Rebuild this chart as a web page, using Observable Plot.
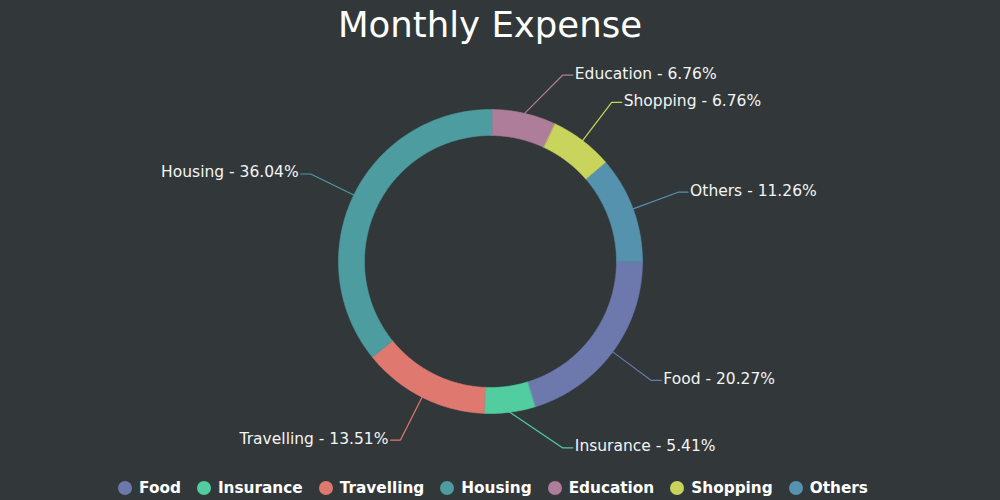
<!DOCTYPE html>
<html>
<head>
<meta charset="utf-8">
<script src="https://cdn.jsdelivr.net/npm/d3@7"></script>
<script src="https://cdn.jsdelivr.net/npm/@observablehq/plot@0.6"></script>
<style>
  html, body { margin: 0; padding: 0; background: #32373A; }
  #wrap { width: 1000px; height: 500px; overflow: hidden; font-family: "DejaVu Sans", sans-serif; color: #fff; }
  #title { height: 50px; line-height: 50px; text-align: center; font-size: 35.5px; color: #fff; padding-right: 20px; }
  #legend { height: 30px; box-sizing: border-box; padding-top: 6px; padding-right: 14px; display: flex; justify-content: center; align-items: center; gap: 16px; font-size: 15.3px; font-weight: bold; color: #fff; }
  .item { display: flex; align-items: center; gap: 7px; }
  .dot { width: 14px; height: 14px; border-radius: 50%; display: inline-block; }
  svg { display: block; }
</style>
</head>
<body>
<div id="wrap">
  <div id="title">Monthly Expense</div>
  <div id="chart"></div>
  <div id="legend"></div>
</div>
<script>
const categories = ["Food", "Insurance", "Travelling", "Housing", "Education", "Shopping", "Others"];
const values = [45, 12, 30, 80, 15, 15, 25];
const colors = ["#6D78AD", "#51CDA0", "#DF7970", "#4C9CA0", "#AE7D99", "#C9D45C", "#5592AD"];

const W = 1000, H = 420;
const R = 152, r = 126, RL = 200, minD = 21.2 * Math.PI / 180;
const total = d3.sum(values);

let cum = 0;
const slices = categories.map((c, i) => {
  const a0 = cum / total * 2 * Math.PI;
  cum += values[i];
  const a1 = cum / total * 2 * Math.PI;
  return { c, a0, a1, mid: (a0 + a1) / 2, pct: (values[i] / total * 100).toFixed(2) };
});

// ring polygons
const ring = [];
for (const s of slices) {
  const n = Math.max(2, Math.ceil((s.a1 - s.a0) / 0.01));
  for (let k = 0; k <= n; k++) {
    const a = s.a0 + (s.a1 - s.a0) * k / n;
    ring.push({ c: s.c, x: R * Math.cos(a), y: R * Math.sin(a) });
  }
  for (let k = n; k >= 0; k--) {
    const a = s.a0 + (s.a1 - s.a0) * k / n;
    ring.push({ c: s.c, x: r * Math.cos(a), y: r * Math.sin(a) });
  }
}

// leader lines + labels
const leaders = [], labels = [];
for (const s of slices) {
  let t = s.mid;
  const dB = t - Math.PI / 2, dT = t - 3 * Math.PI / 2;
  if (Math.abs(dB) < minD) t = Math.PI / 2 + (dB < 0 ? -minD : minD);
  if (Math.abs(dT) < minD) t = 3 * Math.PI / 2 + (dT < 0 ? -minD : minD);
  const side = Math.cos(t) >= 0 ? 1 : -1;
  const ex = RL * Math.cos(t), ey = RL * Math.sin(t);
  leaders.push({ c: s.c, x: R * Math.cos(s.mid), y: R * Math.sin(s.mid) });
  leaders.push({ c: s.c, x: ex, y: ey });
  leaders.push({ c: s.c, x: ex + 10 * side, y: ey });
  labels.push({ c: s.c, side, x: ex + 12 * side, y: ey - 1.5, text: `${s.c} - ${s.pct}%` });
}

const plot = Plot.plot({
  width: W, height: H,
  margin: 0,
  x: { domain: [-490, 510], range: [0, W], axis: null },
  y: { domain: [-211, 209], range: [0, H], axis: null },
  color: { domain: categories, range: colors },
  style: { background: "transparent", color: "#fff", fontFamily: "DejaVu Sans, sans-serif" },
  marks: [
    Plot.line(ring, { x: "x", y: "y", z: "c", fill: "c", stroke: "c", strokeWidth: 0.6, curve: "linear-closed" }),
    Plot.line(leaders, { x: "x", y: "y", z: "c", stroke: "c", strokeWidth: 1.2 }),
    Plot.text(labels.filter(d => d.side > 0), { x: "x", y: "y", text: "text", textAnchor: "start", fill: "#f4f4f4", fontSize: 15.5 }),
    Plot.text(labels.filter(d => d.side < 0), { x: "x", y: "y", text: "text", textAnchor: "end", fill: "#f4f4f4", fontSize: 15.5 })
  ]
});
document.getElementById("chart").appendChild(plot);

const legend = document.getElementById("legend");
categories.forEach((c, i) => {
  const item = document.createElement("div");
  item.className = "item";
  const dot = document.createElement("span");
  dot.className = "dot";
  dot.style.background = colors[i];
  const lab = document.createElement("span");
  lab.textContent = c;
  item.appendChild(dot);
  item.appendChild(lab);
  legend.appendChild(item);
});
</script>
</body>
</html>
